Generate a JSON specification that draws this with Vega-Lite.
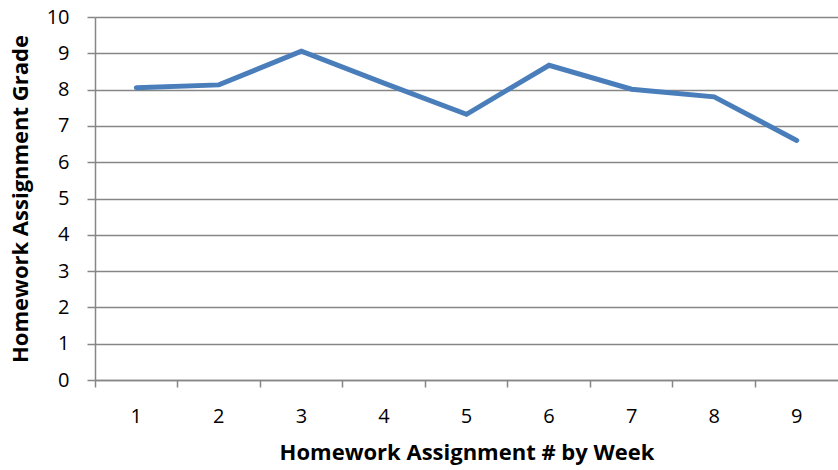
{
  "$schema": "https://vega.github.io/schema/vega-lite/v6.json",
  "autosize": {"type": "none"},
  "padding": {"left": 95, "top": 17, "right": 0, "bottom": 90},
  "width": 743,
  "height": 363,
  "background": "white",
  "data": {"values": [
    {"week": 1, "grade": 8.05},
    {"week": 2, "grade": 8.13},
    {"week": 3, "grade": 9.06},
    {"week": 4, "grade": 8.18},
    {"week": 5, "grade": 7.32},
    {"week": 6, "grade": 8.67},
    {"week": 7, "grade": 8.01},
    {"week": 8, "grade": 7.8},
    {"week": 9, "grade": 6.6}
  ]},
  "config": {
    "view": {"stroke": null},
    "font": "Open Sans"
  },
  "mark": {"type": "line", "color": "#4a7ebb", "strokeWidth": 5, "strokeCap": "round", "strokeJoin": "miter"},
  "encoding": {
    "x": {
      "field": "week", "type": "ordinal", "bandPosition": 0.5,
      "scale": {"type": "band", "paddingInner": 0, "paddingOuter": 0},
      "axis": {
        "title": "Homework Assignment # by Week",
        "titleFont": "Open Sans", "titleFontSize": 22, "titleFontWeight": "bold", "titleColor": "#000",
        "titlePadding": 16,
        "labelAngle": 0, "labelFontSize": 20, "labelColor": "#000", "labelFont": "Open Sans",
        "labelPadding": 19,
        "bandPosition": 0,
        "domainColor": "#868686", "domainWidth": 1.5,
        "tickColor": "#868686", "tickWidth": 1.5, "tickSize": 7,
        "grid": false
      }
    },
    "y": {
      "field": "grade", "type": "quantitative",
      "scale": {"domain": [0, 10], "nice": false, "zero": true},
      "axis": {
        "title": "Homework Assignment Grade",
        "titleFont": "Open Sans", "titleFontSize": 22, "titleFontWeight": "bold", "titleColor": "#000",
        "titlePadding": 14,
        "values": [0,1,2,3,4,5,6,7,8,9,10],
        "labelFontSize": 20, "labelColor": "#000", "labelFont": "Open Sans", "labelPadding": 18,
        "domainColor": "#868686", "domainWidth": 1.5,
        "tickColor": "#868686", "tickWidth": 1.5, "tickSize": 8,
        "grid": true, "gridColor": "#868686", "gridWidth": 1.5
      }
    }
  }
}
